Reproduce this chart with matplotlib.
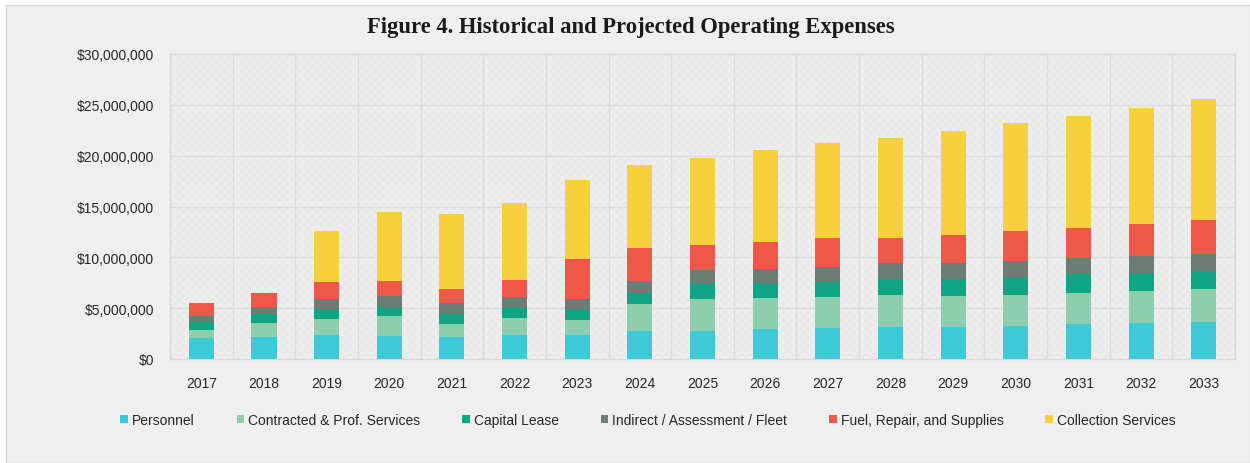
import numpy as np
import matplotlib
matplotlib.use("Agg")
import matplotlib.pyplot as plt
from matplotlib.patches import Rectangle
from matplotlib.ticker import FuncFormatter, MultipleLocator

# ==================================
# 数据（单位：百万美元，从图上读取）
# ==================================

years = ["2017", "2018", "2019", "2020", "2021", "2022", "2023", "2024", "2025",
         "2026", "2027", "2028", "2029", "2030", "2031", "2032", "2033"]

personnel = [2.07, 2.16, 2.36, 2.26, 2.16, 2.39, 2.39, 2.72, 2.78,
             2.95, 3.02, 3.12, 3.18, 3.28, 3.41, 3.51, 3.61]
contracted = [0.82, 1.41, 1.54, 1.94, 1.25, 1.64, 1.47, 2.68, 3.12,
              3.02, 3.11, 3.15, 3.02, 3.05, 3.11, 3.18, 3.24]
capital_lease = [0.79, 0.85, 1.01, 0.94, 1.01, 0.98, 0.95, 1.05, 1.54,
                 1.47, 1.47, 1.60, 1.67, 1.64, 1.81, 1.80, 1.77]
indirect = [0.59, 0.72, 0.98, 1.05, 1.11, 1.05, 1.05, 1.24, 1.31,
            1.44, 1.47, 1.54, 1.54, 1.70, 1.60, 1.64, 1.70]
fuel = [1.25, 1.38, 1.67, 1.50, 1.38, 1.70, 3.96, 3.24, 2.43,
        2.60, 2.79, 2.49, 2.81, 2.89, 2.98, 3.12, 3.31]
collection = [0.0, 0.0, 5.03, 6.75, 7.35, 7.58, 7.77, 8.16, 8.59,
              9.08, 9.34, 9.83, 10.20, 10.62, 11.02, 11.47, 11.93]

series_names = ["Personnel", "Contracted & Prof. Services", "Capital Lease",
                "Indirect / Assessment / Fleet", "Fuel, Repair, and Supplies",
                "Collection Services"]

# ==================================
# 样式
# ==================================

COLORS = ["#3EC9D6", "#8DCEAF", "#0EA584", "#6B7D75", "#EF5748", "#F7D13D"]
BG = "#EFEFEF"
PLOT_BG = "#E9E9E9"
GRID = "#DCDCDC"
TEXT = "#262626"

plt.rcParams["font.family"] = ["Liberation Sans", "DejaVu Sans"]

fig = plt.figure(figsize=(12.5, 4.64), dpi=100, facecolor="white")
fig.patches.append(Rectangle((6 / 1250, 0), 1 - 6 / 1250, 1 - 6 / 464,
                             transform=fig.transFigure, facecolor=BG,
                             edgecolor="#D8D8D8", linewidth=1.0, zorder=-10))

ax = fig.add_axes([170 / 1250, 1 - 360 / 464, 1065 / 1250, 305 / 464])
ax.set_facecolor(PLOT_BG)
ax.patch.set_hatch("xxxx")
ax.patch.set_edgecolor("#EFEFEF")
ax.patch.set_linewidth(0)

x = np.arange(len(years))
data = [personnel, contracted, capital_lease, indirect, fuel, collection]
bottom = np.zeros(len(years))
handles = []
for vals, name, color in zip(data, series_names, COLORS):
    vals = np.array(vals) * 1e6
    h = ax.bar(x, vals, width=0.4, bottom=bottom, color=color,
               label=name, zorder=3, linewidth=0)
    handles.append(h)
    bottom += vals

ax.set_xlim(-0.5, len(years) - 0.5)
ax.set_ylim(0, 30e6)
ax.yaxis.set_major_locator(MultipleLocator(5e6))
ax.yaxis.set_major_formatter(FuncFormatter(lambda v, _: f"${v:,.0f}"))
ax.set_xticks(x)
ax.set_xticklabels(years)

# 类别之间的竖向网格线
ax.set_xticks(np.arange(len(years) + 1) - 0.5, minor=True)
ax.grid(axis="x", which="minor", color=GRID, linewidth=1.0, zorder=1)
ax.grid(axis="y", which="major", color=GRID, linewidth=1.0, zorder=1)
ax.set_axisbelow(True)

ax.tick_params(axis="both", which="both", length=0, labelsize=10,
               labelcolor=TEXT)
ax.tick_params(axis="y", pad=11.5)
ax.tick_params(axis="x", pad=12)
for spine in ax.spines.values():
    spine.set_color("#D9D9D9")
    spine.set_linewidth(1.0)

fig.text(0.505, 1 - 28 / 464, "Figure 4. Historical and Projected Operating Expenses",
         ha="center", va="center", fontsize=16.3, fontweight="bold",
         family=["Liberation Serif", "DejaVu Serif"], color="#1A1A1A")

fig.legend(handles, series_names, loc="center", bbox_to_anchor=(648 / 1250, 1 - 421 / 464),
           ncol=6, frameon=False, fontsize=10, handlelength=0.55, handleheight=0.55,
           handletextpad=0.3, columnspacing=3.0, labelcolor=TEXT)

fig.savefig("out.png", dpi=100, facecolor="white")
